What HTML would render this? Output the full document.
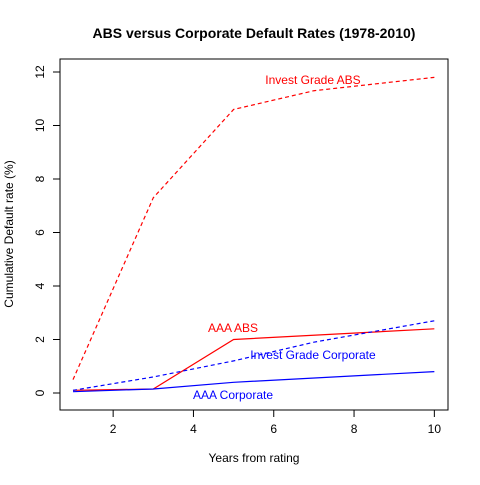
<!DOCTYPE html>
<html><head><meta charset="utf-8"><style>
body{margin:0;background:#fff}
svg{font-family:"Liberation Sans",Arial,sans-serif}
</style></head><body>
<svg id="c" width="480" height="480">
<text x="254" y="38" text-anchor="middle" font-size="14" font-weight="bold">ABS versus Corporate Default Rates (1978-2010)</text>
<text x="254" y="462" text-anchor="middle" font-size="12">Years from rating</text>
<text x="0" y="0" transform="translate(13,234) rotate(-90)" text-anchor="middle" font-size="12">Cumulative Default rate (%)</text>
<rect x="60" y="59" width="388" height="351" fill="none" stroke="#000"/>
<g id="axes"></g><g id="series"></g>
</svg>
<script>
const xTicks=[2,4,6,8,10];
const yTicks=[0,2,4,6,8,10,12];
const igAbsX=[1,3,5,7,10];
const igAbsY=[0.5,7.3,10.6,11.3,11.8];
const aaaAbsX=[1,3,5,10];
const aaaAbsY=[0.1,0.15,2.0,2.4];
const igCorpX=[1,3,5,7,10];
const igCorpY=[0.1,0.6,1.2,1.9,2.7];
const aaaCorpX=[1,3,5,10];
const aaaCorpY=[0.05,0.15,0.4,0.8];
const NS="http://www.w3.org/2000/svg";
const sx=v=>73+(v-1)*40.15;
const sy=v=>393-v*26.75;
const ax=document.getElementById('axes'), se=document.getElementById('series');
function mk(tag,at,p){const e=document.createElementNS(NS,tag);for(const k in at)e.setAttribute(k,at[k]);p.appendChild(e);return e;}
xTicks.forEach(t=>{
 const l=mk('line',{x1:sx(t),x2:sx(t),y1:410,y2:417,stroke:'#000'},ax);
 
 
 const tx=mk('text',{x:sx(t),y:433,'text-anchor':'middle','font-size':12},ax);tx.textContent=t;
 
 
});
mk('line',{x1:sx(2),x2:sx(10),y1:410,y2:410,stroke:'#000'},ax);
yTicks.forEach(t=>{
 const l=mk('line',{x1:53,x2:60,y1:sy(t),y2:sy(t),stroke:'#000'},ax);
 
 
 const tx=mk('text',{x:0,y:0,transform:`translate(44,${sy(t)}) rotate(-90)`,'text-anchor':'middle','font-size':12},ax);tx.textContent=t;
 
 
});
function line(xs,ys,col,dash,name){
 const p=mk('polyline',{points:xs.map((x,i)=>sx(x)+','+sy(ys[i])).join(' '),fill:'none',stroke:col,'stroke-width':1.2},se);
 if(dash)p.setAttribute('stroke-dasharray','4,3');
 
 
}
line(igAbsX,igAbsY,'#f00',true,'invest-grade-abs-line');
line(aaaAbsX,aaaAbsY,'#f00',false,'aaa-abs-line');
line(igCorpX,igCorpY,'#00f',true,'invest-grade-corporate-line');
line(aaaCorpX,aaaCorpY,'#00f',false,'aaa-corporate-line');
function lab(x,y,t,col,name){const e=mk('text',{x:x,y:y,'text-anchor':'middle','font-size':12,fill:col},se);e.textContent=t;
 
 }
lab(313,84,'Invest Grade ABS','#f00','invest-grade-abs-label');
lab(233,332,'AAA ABS','#f00','aaa-abs-label');
lab(313,359,'Invest Grade Corporate','#00f','invest-grade-corporate-label');
lab(233,399,'AAA Corporate','#00f','aaa-corporate-label');
</script>
</body></html>
